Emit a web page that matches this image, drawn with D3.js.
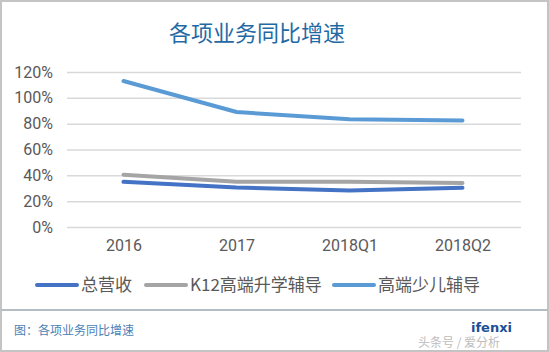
<!DOCTYPE html>
<html>
<head>
<meta charset="utf-8">
<script src="https://cdn.jsdelivr.net/npm/d3@7"></script>
<style>
  body { margin: 0; background: #fff; }
  svg { display: block; font-family: "Noto Sans CJK SC", "Noto Sans", sans-serif; }
</style>
</head>
<body>
<div id="chart"></div>
<script>
// categories and series (percent growth)
var categories = ["2016", "2017", "2018Q1", "2018Q2"];
var seriesNames = ["总营收", "K12高端升学辅导", "高端少儿辅导"];
var totalRevenue = [35, 30.5, 28.3, 30.4];
var k12Tutoring = [40.5, 35, 35, 34];
var kidsTutoring = [113, 89, 83.5, 82.5];
var yTicks = [0, 20, 40, 60, 80, 100, 120];
var colors = ["#4472C4", "#A5A5A5", "#5B9BD5"];

var width = 549, height = 352;
var margin = { top: 72, right: 30, bottom: 125, left: 67 };

var svg = d3.select("#chart").append("svg")
  .attr("width", width)
  .attr("height", height);

// frame
svg.append("rect")
  .attr("x", 1).attr("y", 1)
  .attr("width", width - 2).attr("height", height - 2)
  .attr("fill", "#fff")
  .attr("stroke", "#c4c4c4")
  .attr("stroke-width", 2);

svg.append("line")
  .attr("x1", 1).attr("x2", width - 1)
  .attr("y1", 310).attr("y2", 310)
  .attr("stroke", "#b4bcc4")
  .attr("stroke-width", 2);

// title
svg.append("text")
  .attr("x", 257).attr("y", 41)
  .attr("text-anchor", "middle")
  .attr("fill", "#1f6aa5")
  .attr("font-size", 22)
  .text("各项业务同比增速");

var x = d3.scalePoint()
  .domain(categories)
  .range([margin.left, width - margin.right])
  .padding(0.5);

var y = d3.scaleLinear()
  .domain([0, 120])
  .range([227, 72]);

// gridlines + y axis
var yAxis = d3.axisLeft(y)
  .tickValues(yTicks)
  .tickFormat(function (d) { return d + "%"; })
  .tickSize(-(width - margin.right - margin.left + 2))
  .tickPadding(14);

svg.append("g")
  .attr("transform", "translate(" + margin.left + ",0)")
  .call(yAxis)
  .call(function (g) { g.select(".domain").remove(); })
  .call(function (g) {
    g.selectAll(".tick line").attr("stroke", "#d9d9d9").attr("stroke-width", 1.5);
    g.selectAll(".tick text")
      .attr("fill", "#595959")
      .attr("font-size", 16)
      .attr("font-family", "Roboto, 'Noto Sans', sans-serif");
  });

// x axis
var xAxis = d3.axisBottom(x).tickSize(0).tickPadding(13);
svg.append("g")
  .attr("transform", "translate(0," + 227 + ")")
  .call(xAxis)
  .call(function (g) { g.select(".domain").remove(); })
  .call(function (g) {
    g.selectAll(".tick text")
      .attr("fill", "#595959")
      .attr("font-size", 16)
      .attr("font-family", "Roboto, 'Noto Sans', sans-serif");
  });

// lines
var allSeries = [totalRevenue, k12Tutoring, kidsTutoring];
var line = d3.line()
  .x(function (d, i) { return x(categories[i]); })
  .y(function (d) { return y(d); });

svg.selectAll(".series")
  .data([allSeries[1], allSeries[0], allSeries[2]])
  .enter()
  .append("path")
  .attr("class", "series")
  .attr("fill", "none")
  .attr("stroke", function (d) { return colors[allSeries.indexOf(d)]; })
  .attr("stroke-width", 4)
  .attr("stroke-linecap", "round")
  .attr("stroke-linejoin", "round")
  .attr("d", line);

// legend
var legendPos = [37, 146, 334];
var legend = svg.selectAll(".legend")
  .data(seriesNames)
  .enter()
  .append("g")
  .attr("class", "legend")
  .attr("transform", function (d, i) { return "translate(" + legendPos[i] + ",285)"; });

legend.append("line")
  .attr("x1", 0).attr("x2", 40)
  .attr("stroke", function (d, i) { return colors[i]; })
  .attr("stroke-width", 4)
  .attr("stroke-linecap", "round");

legend.append("text")
  .attr("x", 44)
  .attr("dy", "0.35em")
  .attr("fill", "#595959")
  .attr("font-size", 17)
  .text(function (d) { return d; });

// footer
svg.append("text")
  .attr("x", 14).attr("y", 335)
  .attr("fill", "#4a7fb5")
  .attr("font-size", 12)
  .text("图：各项业务同比增速");

svg.append("text")
  .attr("x", 471).attr("y", 332)
  .attr("fill", "#1a4f95")
  .attr("font-size", 13)
  .attr("font-weight", "bold")
  .attr("font-family", "'DejaVu Sans', sans-serif")
  .text("ifenxi");

svg.append("text")
  .attr("x", 418).attr("y", 347)
  .attr("fill", "#bdbdbd")
  .attr("font-size", 12)
  .text("头条号 / 爱分析");
</script>
</body>
</html>
